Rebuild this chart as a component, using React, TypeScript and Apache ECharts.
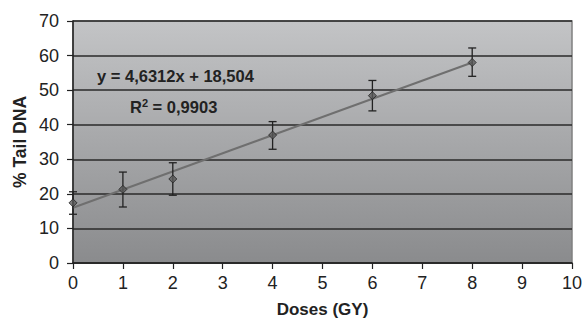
import React, { useEffect, useRef } from "react";
import * as echarts from "echarts";

const doses = [0, 1, 2, 4, 6, 8];
const tailDNA = [17.4, 21.3, 24.3, 37.0, 48.4, 58.0];
const errLow = [14.1, 16.2, 19.6, 32.9, 44.0, 54.0];
const errHigh = [20.6, 26.3, 29.0, 40.9, 52.8, 62.2];
const trendX = [0, 8];
const trendY = [16.0, 58.0];
const equationText = "y = 4,6312x + 18,504";
const r2Value = "0,9903";

export default function App() {
  const ref = useRef<HTMLDivElement>(null);
  useEffect(() => {
    if (!ref.current) return;
    const chart = echarts.init(ref.current, null, { renderer: "svg" });
    const font = "Liberation Sans, Arial, sans-serif";
    chart.setOption({
      animation: false,
      grid: {
        left: 73,
        right: 11,
        top: 21,
        bottom: 57,
        outerBoundsMode: "none",
        show: true,
        borderColor: "#808080",
        borderWidth: 1.5,
        backgroundColor: new echarts.graphic.LinearGradient(0, 0, 0, 1, [
          { offset: 0, color: "#c3c4c6" },
          { offset: 1, color: "#8a8b8d" },
        ]),
      },
      xAxis: {
        type: "value",
        min: 0,
        max: 10,
        interval: 1,
        name: "Doses (GY)",
        nameLocation: "middle",
        nameGap: 38,
        nameMoveOverlap: false,
        nameTextStyle: { fontFamily: font, fontSize: 17, fontWeight: "bold", color: "#222" },
        axisLine: { show: true, onZero: false, lineStyle: { color: "#222", width: 1.5 } },
        axisTick: { show: true, length: 6, lineStyle: { color: "#222", width: 1.2 } },
        axisLabel: { fontFamily: font, fontSize: 18, color: "#222", margin: 11 },
        splitLine: { show: false },
      },
      yAxis: {
        type: "value",
        min: 0,
        max: 70,
        interval: 10,
        name: "% Tail DNA",
        nameLocation: "middle",
        nameGap: 44,
        nameMoveOverlap: false,
        nameTextStyle: { fontFamily: font, fontSize: 17.5, fontWeight: "bold", color: "#222" },
        axisLine: { show: true, lineStyle: { color: "#222", width: 1.5 } },
        axisTick: { show: true, length: 6, lineStyle: { color: "#222", width: 1.2 } },
        axisLabel: { fontFamily: font, fontSize: 18, color: "#222", margin: 14 },
        splitLine: { show: true, lineStyle: { color: "#2a2a2a", width: 1.5 } },
      },
      series: [
        {
          type: "line",
          data: trendX.map((x, i) => [x, trendY[i]]),
          symbol: "none",
          lineStyle: { color: "#6f6f6f", width: 2 },
          z: 3,
        },
        {
          type: "custom",
          data: doses.map((x, i) => [x, errLow[i], errHigh[i]]),
          renderItem: (params: any, api: any) => {
            const x = api.value(0);
            const lo = api.coord([x, api.value(1)]);
            const hi = api.coord([x, api.value(2)]);
            const hw = 4;
            const style = { stroke: "#222", lineWidth: 1.3 };
            return {
              type: "group",
              children: [
                { type: "line", shape: { x1: lo[0], y1: lo[1], x2: hi[0], y2: hi[1] }, style },
                { type: "line", shape: { x1: lo[0] - hw, y1: lo[1], x2: lo[0] + hw, y2: lo[1] }, style },
                { type: "line", shape: { x1: hi[0] - hw, y1: hi[1], x2: hi[0] + hw, y2: hi[1] }, style },
              ],
            };
          },
          z: 4,
        },
        {
          type: "scatter",
          data: doses.map((x, i) => [x, tailDNA[i]]),
          symbol: "diamond",
          symbolSize: 8,
          itemStyle: { color: "#5a5a5a", borderColor: "#222", borderWidth: 1 },
          z: 5,
        },
      ],
      graphic: [
        {
          type: "text",
          left: 97,
          top: 67,
          style: { text: equationText, fontFamily: font, fontSize: 16.5, fontWeight: "bold", fill: "#222" },
        },
        {
          type: "text",
          left: 130,
          top: 97,
          style: {
            text: "R{sup|2} = " + r2Value,
            fontFamily: font,
            fontSize: 16.5,
            fontWeight: "bold",
            fill: "#222",
            rich: {
              sup: { fontFamily: font, fontSize: 11, fontWeight: "bold", fill: "#222", verticalAlign: "top", padding: [0, 0, 8, 0] },
            },
          },
        },
      ],
    });
    return () => chart.dispose();
  }, []);
  return <div ref={ref} style={{ position: "absolute", left: 0, top: 0, width: 583, height: 320 }} />;
}
